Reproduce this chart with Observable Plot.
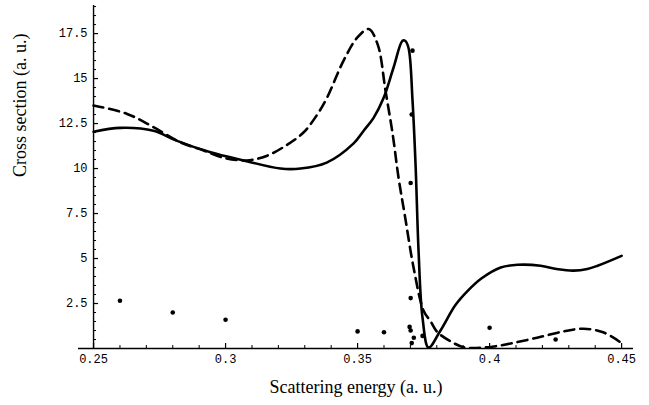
<!DOCTYPE html>
<html><head><meta charset="utf-8">
<script src="https://cdn.jsdelivr.net/npm/d3@7"></script>
<script src="https://cdn.jsdelivr.net/npm/@observablehq/plot@0.6"></script>
<style>
body{margin:0;background:#fff}
g[aria-label="tick label"] text{letter-spacing:1.4px}
</style>
</head><body><div id="chart"></div>
<script>
// Solid curve
const solidX = [0.25, 0.2602, 0.2727, 0.2814, 0.2943, 0.3068, 0.3208, 0.3284, 0.3383, 0.3485, 0.3523, 0.3560, 0.3598, 0.3636, 0.3670, 0.3680, 0.3693, 0.3708, 0.3720, 0.3731, 0.3746, 0.3769, 0.3814, 0.3870, 0.3917, 0.3970, 0.4042, 0.4106, 0.4193, 0.4260, 0.4318, 0.4370, 0.4409, 0.4500];
const solidY = [12.05, 12.26, 12.1, 11.55, 10.9, 10.45, 10.0, 10.0, 10.33, 11.4, 12.1, 12.8, 13.9, 15.6, 17.1, 17.1, 16.7, 13.8, 10.05, 5.4, 1.7, 0.05, 1.0, 2.4, 3.2, 3.9, 4.5, 4.65, 4.6, 4.4, 4.33, 4.42, 4.6, 5.15];
// Dashed curve
const dashedX = [0.25, 0.2625, 0.2727, 0.2830, 0.2917, 0.2992, 0.3080, 0.3155, 0.3231, 0.3295, 0.3345, 0.3383, 0.3447, 0.3500, 0.3542, 0.3576, 0.3606, 0.3633, 0.3655, 0.3680, 0.3712, 0.3750, 0.3777, 0.3803, 0.3864, 0.3902, 0.3950, 0.4010, 0.4080, 0.4180, 0.4280, 0.4356, 0.4430, 0.4496, 0.4500];
const dashedY = [13.5, 13.05, 12.3, 11.45, 11.0, 10.6, 10.45, 10.7, 11.3, 12.0, 12.95, 13.9, 16.0, 17.3, 17.75, 16.9, 14.3, 11.9, 9.5, 7.3, 4.5, 2.1, 1.5, 0.9, 0.3, 0.07, 0.03, 0.1, 0.28, 0.6, 0.95, 1.1, 0.9, 0.33, 0.25];
// Data points
const pointX = [0.26, 0.28, 0.30, 0.35, 0.36, 0.3697, 0.3701, 0.3705, 0.3713, 0.3746, 0.3701, 0.3701, 0.3705, 0.3708, 0.40, 0.425];
const pointY = [2.65, 2.0, 1.6, 0.95, 0.9, 1.2, 1.0, 0.3, 0.6, 0.7, 2.8, 9.2, 13.0, 16.55, 1.15, 0.5];
// Ticks
const xTicks = [0.25, 0.3, 0.35, 0.4, 0.45];
const xTickLabels = ["0.25", "0.3", "0.35", "0.4", "0.45"];
const yTicks = [2.5, 5, 7.5, 10, 12.5, 15, 17.5];
const yTickLabels = ["2.5", "5", "7.5", "10", "12.5", "15", "17.5"];
const xLabel = "Scattering energy (a. u.)";
const yLabel = "Cross section (a. u.)";

const solid = solidX.map((x, i) => ({x, y: solidY[i]}));
const dashed = dashedX.map((x, i) => ({x, y: dashedY[i]}));
const points = pointX.map((x, i) => ({x, y: pointY[i]}));
const xMinor = d3.range(25, 46).map(k => k / 100).filter(v => !xTicks.some(t => Math.abs(t - v) < 1e-9));
const yMinor = d3.range(1, 39).map(k => k / 2).filter(v => !yTicks.includes(v));

const X0 = 0.25;
const xMaj = 5 / 18, xMin = 3 / 18;          // tick lengths on x axis (in y units)
const yMaj = 5 / 2640, yMin = 3 / 2640;      // tick lengths on y axis (in x units)

const chart = Plot.plot({
  width: 649, height: 405,
  marginLeft: 78, marginRight: 16, marginTop: 5, marginBottom: 57,
  x: {domain: [0.2443, 0.4545], axis: null},
  y: {domain: [0, 19.06], axis: null},
  style: {background: "white", color: "black"},
  marks: [
    Plot.ruleY([0], {stroke: "black", strokeWidth: 1.4}),
    Plot.ruleX([X0], {stroke: "black", strokeWidth: 1.4}),
    Plot.ruleX(xTicks, {x: d => d, y1: 0, y2: xMaj, stroke: "black", strokeWidth: 1.2}),
    Plot.ruleX(xMinor, {x: d => d, y1: 0, y2: xMin, stroke: "black", strokeWidth: 1}),
    Plot.ruleY(yTicks, {y: d => d, x1: X0, x2: X0 + yMaj, stroke: "black", strokeWidth: 1.2}),
    Plot.ruleY(yMinor, {y: d => d, x1: X0, x2: X0 + yMin, stroke: "black", strokeWidth: 1}),
    Plot.text(xTicks, {x: d => d, y: 0, text: (d, i) => xTickLabels[i], dy: 11, lineAnchor: "middle", fontFamily: "Liberation Mono", fontSize: 12, fill: "black", ariaLabel: "tick label"}),
    Plot.text(yTicks, {x: X0, y: d => d, text: (d, i) => yTickLabels[i], dx: -6, textAnchor: "end", fontFamily: "Liberation Mono", fontSize: 12, fill: "black", ariaLabel: "tick label"}),
    Plot.text([xLabel], {frameAnchor: "bottom", dy: 44, fontFamily: "Liberation Serif", fontSize: 18, fill: "black"}),
    Plot.text([yLabel], {frameAnchor: "left", dx: -58, rotate: -90, fontFamily: "Liberation Serif", fontSize: 18, fill: "black"}),
    Plot.line(dashed, {x: "x", y: "y", curve: "catmull-rom", stroke: "black", strokeWidth: 2.6, strokeDasharray: "10,6", clip: true}),
    Plot.line(solid, {x: "x", y: "y", curve: "catmull-rom", stroke: "black", strokeWidth: 2.6, clip: true}),
    Plot.dot(points, {x: "x", y: "y", r: 2.3, fill: "black"})
  ]
});
document.getElementById("chart").appendChild(chart);
</script>
</body></html>
